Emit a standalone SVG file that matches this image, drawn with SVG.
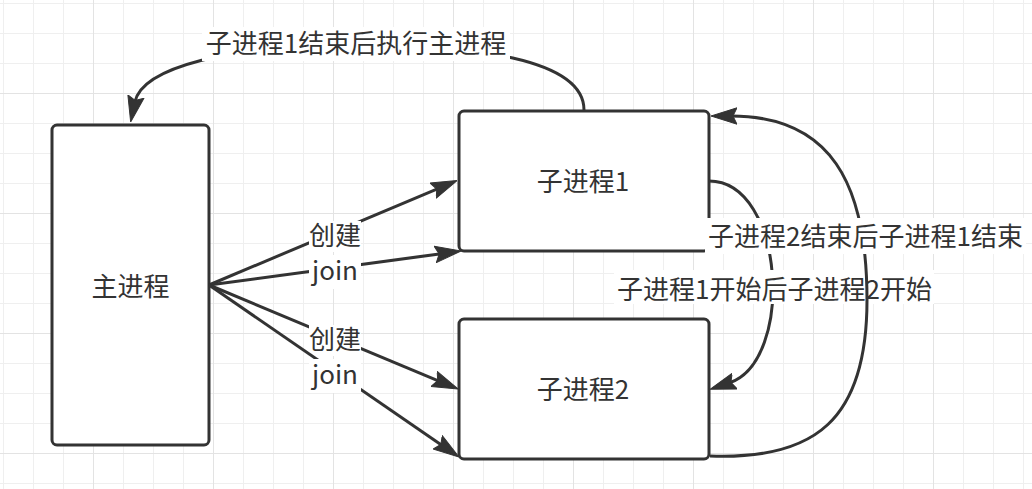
<svg xmlns="http://www.w3.org/2000/svg" width="1032" height="489" viewBox="0 0 1032 489">
<style>
.box{fill:#fff;stroke:#333;stroke-width:3}
.edge{fill:none;stroke:#333;stroke-width:3}
.arrow{marker-end:url(#arr)}
.t{font-family:"Noto Sans CJK SC","Noto Sans",sans-serif;font-size:26px;fill:#333;text-anchor:middle}
.bg{fill:#fff}
</style>
<defs>
<pattern id="grid" x="3" y="3" width="120" height="120" patternUnits="userSpaceOnUse">
<rect x="0" y="0" width="1" height="120" fill="#efefef"/>
<rect x="30" y="0" width="1" height="120" fill="#efefef"/>
<rect x="60" y="0" width="1" height="120" fill="#efefef"/>
<rect x="0" y="0" width="120" height="1" fill="#efefef"/>
<rect x="0" y="30" width="120" height="1" fill="#efefef"/>
<rect x="0" y="60" width="120" height="1" fill="#efefef"/>
<rect x="90" y="0" width="1" height="120" fill="#e3e3e3"/>
<rect x="0" y="90" width="120" height="1" fill="#e3e3e3"/>
</pattern>
<marker id="arr" viewBox="0 0 26 18" refX="6" refY="9" markerWidth="26" markerHeight="18" markerUnits="userSpaceOnUse" orient="auto">
<path d="M26,9 L0,0.8 L4,9 L0,17.2 Z" fill="#333" stroke="#333" stroke-width="1" stroke-linejoin="round"/>
</marker>
</defs>
<rect x="0" y="0" width="1032" height="489" fill="#fff"/>
<rect x="0" y="0" width="1032" height="489" fill="url(#grid)"/>

<g id="main">
<rect class="box" x="52" y="125" width="157" height="320" rx="5"/>
<text class="t" x="130.5" y="296">主进程</text>
</g>
<g id="sub1">
<rect class="box" x="459" y="111" width="250" height="140" rx="5"/>
<text class="t" x="583" y="191">子进程1</text>
</g>
<g id="sub2">
<rect class="box" x="459" y="319" width="250" height="140" rx="5"/>
<text class="t" x="583" y="399">子进程2</text>
</g>

<g id="connectors">
<g id="e-top">
<path class="edge arrow" d="M584,110 C584,58 470,45 356,45 C230,45 142,67 134.7,102.4"/>
<rect class="bg" x="202" y="27" width="308" height="34"/>
<text class="t" x="356" y="52.5">子进程1结束后执行主进程</text>
</g>
<g id="e-create1">
<path class="edge arrow" d="M209,285 L438.6,188.3"/>
<rect class="bg" x="309" y="221" width="52" height="31"/>
<text class="t" x="335" y="245">创建</text>
</g>
<g id="e-join1">
<path class="edge arrow" d="M209,285 L441.18,253.67"/>
<rect class="bg" x="309" y="255" width="52" height="34"/>
<text class="t" x="335" y="280">join</text>
</g>
<g id="e-create2">
<path class="edge arrow" d="M209,285 L439.55,381.29"/>
<rect class="bg" x="309" y="325" width="52" height="31"/>
<text class="t" x="335" y="349">创建</text>
</g>
<g id="e-join2">
<path class="edge arrow" d="M209,285 L442.52,445.66"/>
<rect class="bg" x="309" y="359" width="52" height="34"/>
<text class="t" x="335" y="384">join</text>
</g>
<g id="e-start">
<path class="edge arrow" d="M709,181 C785,181 795,361 729,383"/>
<rect class="bg" x="614" y="270" width="320" height="34"/>
<text class="t" x="774.5" y="298.5">子进程1开始后子进程2开始</text>
</g>
<g id="e-end">
<path class="edge arrow" d="M710,456 C815,460 867,420 867,300 C867,182 830,116 731,116"/>
<rect class="bg" x="705" y="218" width="321" height="36"/>
<text class="t" x="865.5" y="246">子进程2结束后子进程1结束</text>
</g>
</g>
</svg>
